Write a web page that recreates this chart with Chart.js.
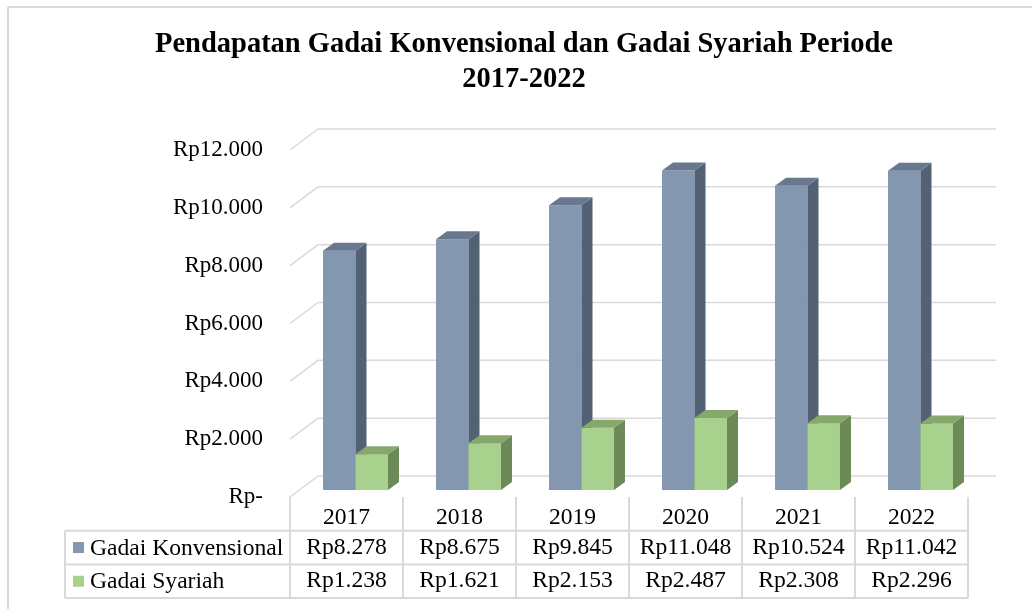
<!DOCTYPE html>
<html>
<head>
<meta charset="utf-8">
<script src="https://cdn.jsdelivr.net/npm/chart.js@4.4.0/dist/chart.umd.min.js"></script>
<style>
  html, body { margin: 0; padding: 0; background: #fff; }
</style>
</head>
<body>
<canvas id="gadaiChart" width="1032" height="609"></canvas>
<script>
const years = ['2017', '2018', '2019', '2020', '2021', '2022'];
const konvensional = [8278, 8675, 9845, 11048, 10524, 11042];
const syariah = [1238, 1621, 2153, 2487, 2308, 2296];
const yTicks = [0, 2000, 4000, 6000, 8000, 10000, 12000];
const titleLines = ['Pendapatan Gadai Konvensional dan Gadai Syariah Periode', '2017-2022'];
const seriesNames = ['Gadai Konvensional', 'Gadai Syariah'];

const SERIF = '"Liberation Serif", "Times New Roman", serif';
const GRID = '#d9d9d9';
// 3d offsets, relative to the bar front face plane
const FRONT = { dx: -9, dy: 7 };
const BACK = { dx: 19, dy: -14 };
const DEPTH = { dx: 11, dy: -8 };
const shades = [
  { front: '#8497b0', side: '#536175', top: '#68798f' },
  { front: '#a9d18e', side: '#6c8a57', top: '#87a86d' }
];

function rp(v) {
  if (v === 0) return 'Rp-';
  return 'Rp' + String(v).replace(/\B(?=(\d{3})+(?!\d))/g, '.');
}

function line(ctx, x1, y1, x2, y2) {
  ctx.beginPath();
  ctx.moveTo(x1, y1);
  ctx.lineTo(x2, y2);
  ctx.stroke();
}

function poly(ctx, pts, color) {
  ctx.beginPath();
  ctx.moveTo(pts[0][0], pts[0][1]);
  for (let i = 1; i < pts.length; i++) ctx.lineTo(pts[i][0], pts[i][1]);
  ctx.closePath();
  ctx.fillStyle = color;
  ctx.fill();
}

const bars3d = {
  id: 'bars3d',
  beforeDraw(chart) {
    const ctx = chart.ctx;
    ctx.save();
    ctx.strokeStyle = GRID;
    ctx.lineWidth = 2;
    line(ctx, 8, 7, 8, 609);
    line(ctx, 8, 7, 1032, 7);
    ctx.fillStyle = '#000';
    ctx.font = 'bold 28.5px ' + SERIF;
    ctx.textAlign = 'center';
    ctx.textBaseline = 'alphabetic';
    ctx.fillText(titleLines[0], 524, 52);
    ctx.fillText(titleLines[1], 524, 87);
    ctx.restore();
  },
  beforeDatasetsDraw(chart) {
    const ctx = chart.ctx, a = chart.chartArea, ys = chart.scales.y;
    ctx.save();
    ctx.strokeStyle = GRID;
    ctx.lineWidth = 1.5;
    yTicks.forEach(v => {
      const y = ys.getPixelForValue(v);
      line(ctx, a.left + FRONT.dx, y + FRONT.dy, a.left + BACK.dx, y + BACK.dy);
      line(ctx, a.left + BACK.dx, y + BACK.dy, a.right + BACK.dx, y + BACK.dy);
    });
    ctx.restore();
  },
  afterDatasetsDraw(chart) {
    const ctx = chart.ctx;
    ctx.save();
    chart.data.datasets.forEach((ds, di) => {
      const meta = chart.getDatasetMeta(di);
      meta.data.forEach(el => {
        if (di > 0) el.draw(ctx);
        const p = el.getProps(['x', 'y', 'base', 'width'], true);
        const l = p.x - p.width / 2, r = p.x + p.width / 2;
        poly(ctx, [[r, p.y], [r + DEPTH.dx, p.y + DEPTH.dy], [r + DEPTH.dx, p.base + DEPTH.dy], [r, p.base]], shades[di].side);
        poly(ctx, [[l, p.y], [l + DEPTH.dx, p.y + DEPTH.dy], [r + DEPTH.dx, p.y + DEPTH.dy], [r, p.y]], shades[di].top);
      });
    });
    ctx.restore();
  },
  afterDraw(chart) {
    // data table under the floor
    const ctx = chart.ctx, xs = chart.scales.x, ys = chart.scales.y;
    const colW = (xs.right - xs.left) / years.length;
    const top = ys.getPixelForValue(0) + FRONT.dy;
    const rowH = 33.7;
    const bottom = top + rowH * 3;
    const legLeft = 65;
    const edges = [];
    for (let i = 0; i <= years.length; i++) edges.push(xs.left + FRONT.dx + i * colW);
    ctx.save();
    ctx.strokeStyle = GRID;
    ctx.lineWidth = 2;
    edges.forEach(x => line(ctx, x, top, x, bottom));
    line(ctx, legLeft, top + rowH, legLeft, bottom);
    for (let k = 1; k <= 3; k++) line(ctx, legLeft, top + rowH * k, edges[edges.length - 1], top + rowH * k);

    ctx.fillStyle = '#000';
    ctx.font = '23.6px ' + SERIF;
    ctx.textBaseline = 'middle';
    ctx.textAlign = 'center';
    years.forEach((yr, i) => {
      const cx = xs.getPixelForValue(i) + FRONT.dx;
      ctx.fillText(yr, cx, top + rowH / 2 + 4);
      ctx.fillText(rp(konvensional[i]), cx, top + rowH * 1.5);
      ctx.fillText(rp(syariah[i]), cx, top + rowH * 2.5);
    });
    ctx.textAlign = 'left';
    seriesNames.forEach((name, k) => {
      const cy = top + rowH * (k + 1.5);
      ctx.fillStyle = shades[k].front;
      ctx.fillRect(73, cy - 5.5, 11, 11);
      ctx.fillStyle = '#000';
      ctx.fillText(name, 90, cy + 1);
    });
    ctx.restore();
  }
};

new Chart(document.getElementById('gadaiChart'), {
  type: 'bar',
  data: {
    labels: years,
    datasets: [
      { label: seriesNames[0], data: konvensional, backgroundColor: shades[0].front, borderWidth: 0 },
      { label: seriesNames[1], data: syariah, backgroundColor: shades[1].front, borderWidth: 0 }
    ]
  },
  options: {
    responsive: false,
    animation: false,
    events: [],
    layout: { padding: { top: 143, right: 55, bottom: 119, left: 0 } },
    datasets: { bar: { categoryPercentage: 0.575, barPercentage: 1.0 } },
    plugins: { legend: { display: false }, title: { display: false }, tooltip: { enabled: false } },
    scales: {
      x: { display: false, offset: true },
      y: {
        min: 0, max: 12000,
        afterFit: s => { s.width = 299; },
        afterBuildTicks: s => { s.ticks = yTicks.map(v => ({ value: v })); },
        grid: { display: false, drawTicks: false },
        border: { display: false },
        ticks: {
          padding: 36,
          labelOffset: 7,
          color: '#000',
          font: { family: SERIF, size: 23 },
          callback: v => rp(v)
        }
      }
    }
  },
  plugins: [bars3d]
});
</script>
</body>
</html>
